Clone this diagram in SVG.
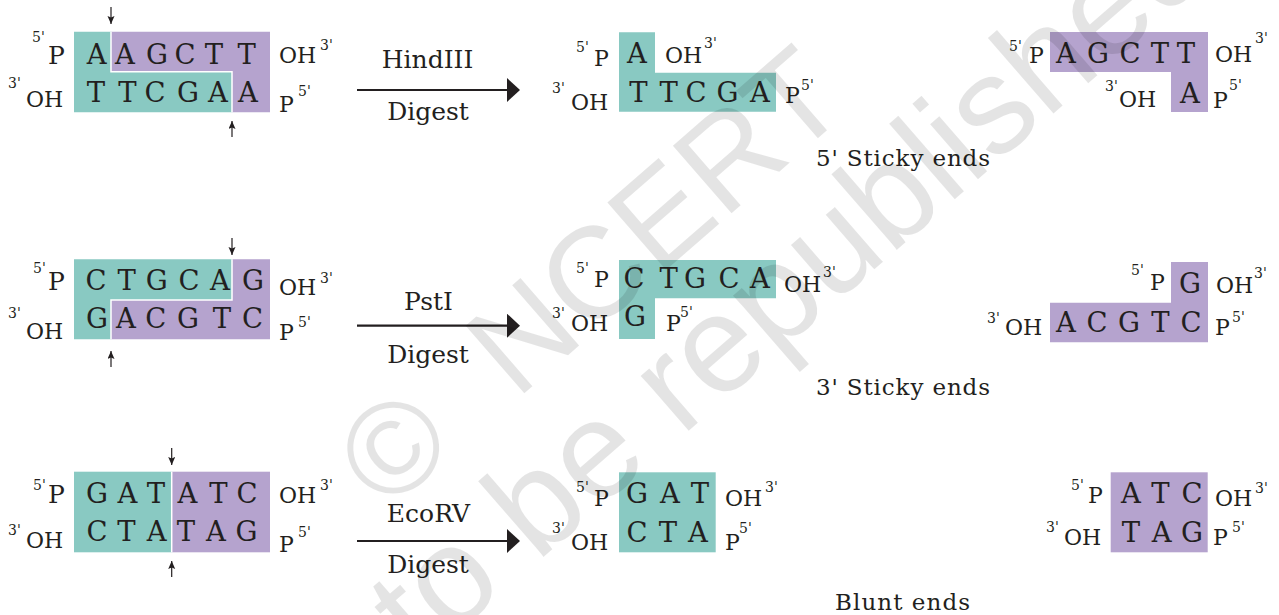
<svg xmlns="http://www.w3.org/2000/svg" width="1279" height="615" viewBox="0 0 1279 615">
<style>
text{font-family:"DejaVu Serif","Liberation Serif",serif;fill:#231f20}
.n{font-size:27.5px;text-anchor:middle}
.lp{font-size:25px}
.l{font-size:22px}
.s{font-size:14px}
.t{font-size:25px;text-anchor:middle}
.c{font-size:23px}
.teal{fill:#89c9c2}
.pur{fill:#b5a3ce}
.sep{fill:none;stroke:#fff;stroke-width:1.5}
.arr{stroke:#231f20;stroke-width:2.2;fill:none}
.cut{stroke:#231f20;stroke-width:1.2;fill:none}
.wm{font-family:"Liberation Sans",Arial,sans-serif;fill:#000;fill-opacity:0.105}
</style>
<defs>
<marker id="big" markerUnits="userSpaceOnUse" markerWidth="14" markerHeight="26" refX="1" refY="12" orient="auto"><path d="M0,0 L13,12 L0,24 z" fill="#231f20"/></marker>
<marker id="sm" markerUnits="userSpaceOnUse" markerWidth="9" markerHeight="8" refX="8" refY="3.5" orient="auto"><path d="M0,0 L8,3.5 L0,7 L1.5,3.5 z" fill="#231f20"/></marker>
</defs>

<!-- Row 1: HindIII -->
<g id="hind-substrate">
<polygon class="teal" points="74,31.7 111,31.7 111,71.7 232,71.7 232,112.3 74,112.3"/>
<polygon class="pur" points="111,31.7 270,31.7 270,112.3 232,112.3 232,71.7 111,71.7"/>
<polyline class="sep" points="111,31.7 111,71.7 232,71.7 232,112.3"/>
<text class="s" x="32" y="42">5'</text><text class="lp" x="48" y="64">P</text>
<text class="s" x="8" y="88">3'</text><text class="l" x="26" y="107">OH</text>
<text class="n" y="64"><tspan x="96.7">A</tspan><tspan x="125">A</tspan><tspan x="157">G</tspan><tspan x="185">C</tspan><tspan x="214">T</tspan><tspan x="246.7">T</tspan></text>
<text class="n" y="102"><tspan x="96">T</tspan><tspan x="127.5">T</tspan><tspan x="155">C</tspan><tspan x="188">G</tspan><tspan x="218">A</tspan><tspan x="248">A</tspan></text>
<text class="l" x="279" y="63">OH</text><text class="s" x="320" y="50">3'</text>
<text class="l" x="279" y="112">P</text><text class="s" x="298" y="96">5'</text>
</g>
<g id="hind-left">
<polygon class="teal" points="619,32.3 655,32.3 655,72.7 776,72.7 776,111.7 619,111.7"/>
<text class="s" x="576" y="52">5'</text><text class="l" x="594" y="65.7">P</text>
<text class="n" x="637" y="63">A</text>
<text class="l" x="665" y="62.7">OH</text><text class="s" x="704" y="48">3'</text>
<text class="s" x="552" y="93">3'</text><text class="l" x="571" y="110">OH</text>
<text class="n" y="101.7"><tspan x="638.5">T</tspan><tspan x="668.7">T</tspan><tspan x="696">C</tspan><tspan x="727.5">G</tspan><tspan x="760">A</tspan></text>
<text class="l" x="785" y="103">P</text><text class="s" x="801" y="90">5'</text>
</g>
<g id="hind-right">
<polygon class="pur" points="1050,32 1208,32 1208,112 1171,112 1171,72 1050,72"/>
<text class="s" x="1009" y="51">5'</text><text class="l" x="1029" y="63">P</text>
<text class="n" y="63"><tspan x="1066">A</tspan><tspan x="1098">G</tspan><tspan x="1130">C</tspan><tspan x="1160">T</tspan><tspan x="1186">T</tspan></text>
<text class="l" x="1215" y="62">OH</text><text class="s" x="1255" y="43">3'</text>
<text class="s" x="1105" y="91">3'</text><text class="l" x="1119" y="107">OH</text>
<text class="n" x="1190" y="103">A</text>
<text class="l" x="1213" y="108">P</text><text class="s" x="1229" y="90">5'</text>
</g>
<g id="label-5sticky"><text class="c" x="816" y="166" textLength="174">5' Sticky ends</text></g>

<!-- Row 2: PstI -->
<g id="pst-substrate">
<polygon class="teal" points="74,259.3 232,259.3 232,300 111,300 111,339.3 74,339.3"/>
<polygon class="pur" points="232,259.3 270,259.3 270,339.3 111,339.3 111,300 232,300"/>
<polyline class="sep" points="232,259.3 232,300 111,300 111,339.3"/>
<text class="s" x="33" y="273">5'</text><text class="lp" x="48" y="290">P</text>
<text class="s" x="8" y="318">3'</text><text class="l" x="26" y="339">OH</text>
<text class="n" y="290"><tspan x="96">C</tspan><tspan x="126.7">T</tspan><tspan x="156.7">G</tspan><tspan x="189">C</tspan><tspan x="220">A</tspan><tspan x="253">G</tspan></text>
<text class="n" y="328"><tspan x="97">G</tspan><tspan x="126">A</tspan><tspan x="155.8">C</tspan><tspan x="188">G</tspan><tspan x="222">T</tspan><tspan x="252.5">C</tspan></text>
<text class="l" x="279" y="295">OH</text><text class="s" x="320" y="283">3'</text>
<text class="l" x="279" y="340">P</text><text class="s" x="298" y="327">5'</text>
</g>
<g id="pst-left">
<polygon class="teal" points="619,260 776,260 776,298.3 655,298.3 655,339 619,339"/>
<text class="s" x="576" y="273">5'</text><text class="l" x="594" y="287.3">P</text>
<text class="n" y="288"><tspan x="634">C</tspan><tspan x="668.6">T</tspan><tspan x="695">G</tspan><tspan x="729">C</tspan><tspan x="760">A</tspan></text>
<text class="l" x="784" y="291.7">OH</text><text class="s" x="823" y="277">3'</text>
<text class="s" x="552" y="318">3'</text><text class="l" x="571" y="331">OH</text>
<text class="n" x="635" y="326">G</text>
<text class="l" x="666" y="331">P</text><text class="s" x="680" y="317">5'</text>
</g>
<g id="pst-right">
<polygon class="pur" points="1171,262 1208,262 1208,342.3 1050,342.3 1050,302.7 1171,302.7"/>
<text class="s" x="1131" y="275">5'</text><text class="l" x="1150" y="290">P</text>
<text class="n" x="1190" y="293">G</text>
<text class="l" x="1216" y="293">OH</text><text class="s" x="1254" y="278">3'</text>
<text class="s" x="987" y="323">3'</text><text class="l" x="1005" y="335">OH</text>
<text class="n" y="331.7"><tspan x="1066">A</tspan><tspan x="1097">C</tspan><tspan x="1129">G</tspan><tspan x="1160.5">T</tspan><tspan x="1191">C</tspan></text>
<text class="l" x="1215" y="335">P</text><text class="s" x="1232" y="322">5'</text>
</g>
<g id="label-3sticky"><text class="c" x="816" y="395" textLength="174">3' Sticky ends</text></g>

<!-- Row 3: EcoRV -->
<g id="eco-substrate">
<rect class="teal" x="74" y="471.7" width="97.7" height="80.6"/>
<rect class="pur" x="171.7" y="471.7" width="98.3" height="80.6"/>
<line class="sep" x1="171.7" y1="471.7" x2="171.7" y2="552.3"/>
<text class="s" x="33" y="490">5'</text><text class="lp" x="48" y="503">P</text>
<text class="s" x="8" y="535">3'</text><text class="l" x="26" y="548">OH</text>
<text class="n" y="503.3"><tspan x="97">G</tspan><tspan x="127.5">A</tspan><tspan x="156">T</tspan><tspan x="187.5">A</tspan><tspan x="218.5">T</tspan><tspan x="247">C</tspan></text>
<text class="n" y="541"><tspan x="97">C</tspan><tspan x="126.5">T</tspan><tspan x="156.6">A</tspan><tspan x="186">T</tspan><tspan x="216">A</tspan><tspan x="246.5">G</tspan></text>
<text class="l" x="279" y="502.7">OH</text><text class="s" x="320" y="490">3'</text>
<text class="l" x="279" y="551.7">P</text><text class="s" x="298" y="537">5'</text>
</g>
<g id="eco-left">
<rect class="teal" x="619" y="472.3" width="96.7" height="80"/>
<text class="s" x="576" y="492">5'</text><text class="l" x="594" y="505.7">P</text>
<text class="n" y="503"><tspan x="637">G</tspan><tspan x="670">A</tspan><tspan x="700">T</tspan></text>
<text class="l" x="725" y="505.7">OH</text><text class="s" x="765" y="492">3'</text>
<text class="s" x="552" y="533">3'</text><text class="l" x="571" y="550">OH</text>
<text class="n" y="541.7"><tspan x="637">C</tspan><tspan x="668">T</tspan><tspan x="698">A</tspan></text>
<text class="l" x="725" y="550">P</text><text class="s" x="739" y="533">5'</text>
</g>
<g id="eco-right">
<rect class="pur" x="1110.7" y="472.3" width="97" height="80"/>
<text class="s" x="1071" y="490">5'</text><text class="l" x="1088" y="503.3">P</text>
<text class="n" y="503.3"><tspan x="1131">A</tspan><tspan x="1160.5">T</tspan><tspan x="1192">C</tspan></text>
<text class="l" x="1215" y="505.7">OH</text><text class="s" x="1255" y="493">3'</text>
<text class="s" x="1046" y="532">3'</text><text class="l" x="1064" y="545">OH</text>
<text class="n" y="541.7"><tspan x="1131">T</tspan><tspan x="1161.7">A</tspan><tspan x="1192">G</tspan></text>
<text class="l" x="1213" y="545">P</text><text class="s" x="1232" y="532">5'</text>
</g>
<g id="label-blunt"><text class="c" x="835" y="610" textLength="135">Blunt ends</text></g>

<g id="connectors">
<line class="arr" x1="357" y1="90" x2="508" y2="90" marker-end="url(#big)"/>
<text class="t" x="427.5" y="68">HindIII</text>
<text class="t" x="428" y="120">Digest</text>
<line class="arr" x1="357" y1="325.7" x2="508" y2="325.7" marker-end="url(#big)"/>
<text class="t" x="428.5" y="310">PstI</text>
<text class="t" x="428" y="363">Digest</text>
<line class="arr" x1="357" y1="541" x2="508" y2="541" marker-end="url(#big)"/>
<text class="t" x="428.5" y="521.7">EcoRV</text>
<text class="t" x="428" y="573">Digest</text>
<line class="cut" x1="111" y1="7" x2="111" y2="24" marker-end="url(#sm)"/>
<line class="cut" x1="232" y1="137" x2="232" y2="121" marker-end="url(#sm)"/>
<line class="cut" x1="232" y1="238" x2="232" y2="255" marker-end="url(#sm)"/>
<line class="cut" x1="111" y1="367" x2="111" y2="351" marker-end="url(#sm)"/>
<line class="cut" x1="171.7" y1="448" x2="171.7" y2="465" marker-end="url(#sm)"/>
<line class="cut" x1="171.7" y1="577" x2="171.7" y2="561" marker-end="url(#sm)"/>
</g>

<g id="watermark" transform="translate(386.6,513) rotate(-41)">
<text class="wm" x="0" y="0" font-size="130">©<tspan dx="76">NCERT</tspan></text>
<text class="wm" x="-303" y="136" font-size="138">not to be republished</text>
</g>
</svg>
